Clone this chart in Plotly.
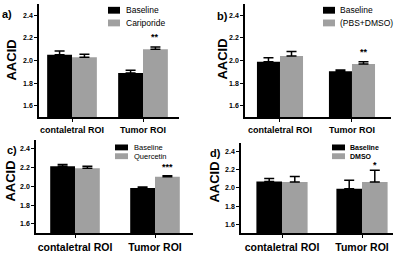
import plotly.graph_objects as go

W, H = 400, 253

# ---------------- data ----------------
categories = ["contaletral ROI", "Tumor ROI"]
y_ticks = [1.6, 1.8, 2.0, 2.2, 2.4]

a_baseline = [2.05, 1.89]
a_baseline_err = [0.035, 0.025]
a_treat = [2.03, 2.10]
a_treat_err = [0.025, 0.02]
a_names = ["Baseline", "Cariporide"]
a_sig = ["", "**"]

b_baseline = [1.99, 1.905]
b_baseline_err = [0.035, 0.012]
b_treat = [2.04, 1.97]
b_treat_err = [0.04, 0.02]
b_names = ["Baseline", "(PBS+DMSO)"]
b_sig = ["", "**"]

c_baseline = [2.215, 1.985]
c_baseline_err = [0.02, 0.01]
c_treat = [2.195, 2.105]
c_treat_err = [0.02, 0.01]
c_names = ["Baseline", "Quercetin"]
c_sig = ["", "***"]

d_baseline = [2.07, 1.99]
d_baseline_err = [0.035, 0.095]
d_treat = [2.065, 2.065]
d_treat_err = [0.06, 0.13]
d_names = ["Baseline", "DMSO"]
d_sig = ["", "*"]

panel_labels = ["a)", "b)", "c)", "d)"]
y_title = "AACID"

BLACK = "#000000"
GRAY = "#a0a0a0"
FONT = "Liberation Sans"


def px(x):
    return x / W


def py(y):
    return 1 - y / H


# panel geometry in pixels
panels = [
    dict(data=(a_baseline, a_baseline_err, a_treat, a_treat_err, a_names, a_sig),
         x0=39, x1=179, yt=4, yb=120, xr=[-0.465, 1.507], bw=0.35, catsize=9,
         lab=(7, 14), tit=(12, 62), star=3,
         leg=dict(sx=108, sy=(7, 20), sw=12, sh=7, tx=124, fs=8.5, bold=False)),
    dict(data=(b_baseline, b_baseline_err, b_treat, b_treat_err, b_names, b_sig),
         x0=245, x1=391, yt=4, yb=120, xr=[-0.486, 1.542], bw=0.32, catsize=9,
         lab=(222, 16), tit=(223, 61), star=3,
         leg=dict(sx=323, sy=(7, 20), sw=12, sh=7, tx=338, fs=8.5, bold=False)),
    dict(data=(c_baseline, c_baseline_err, c_treat, c_treat_err, c_names, c_sig),
         x0=36, x1=193, yt=143, yb=239, xr=[-0.4875, 1.475], bw=0.31, catsize=10.5,
         lab=(12, 154), tit=(11, 186), star=2,
         leg=dict(sx=115, sy=(148, 157), sw=13, sh=6, tx=132, fs=7.5, bold=False)),
    dict(data=(d_baseline, d_baseline_err, d_treat, d_treat_err, d_names, d_sig),
         x0=241, x1=393, yt=146, yb=239, xr=[-0.5125, 1.3875], bw=0.32, catsize=10.5,
         lab=(215, 157), tit=(215, 187), star=-2,
         leg=dict(sx=332, sy=(148, 157), sw=13, sh=6, tx=348, fs=7, bold=True)),
]

fig = go.Figure()
annotations = []
shapes = []

for i, p in enumerate(panels):
    n = "" if i == 0 else str(i + 1)
    xa, ya = "x" + n, "y" + n
    base, base_err, treat, treat_err, names, sig = p["data"]
    bw = p["bw"]
    fig.add_trace(go.Bar(
        x=categories, y=base, name=names[0], marker_color=BLACK, marker_line_width=0,
        width=bw, offset=-bw, xaxis=xa, yaxis=ya, showlegend=False,
        error_y=dict(type="data", array=base_err, arrayminus=[0] * len(base_err),
                     symmetric=False, color=BLACK, thickness=1.5, width=5)))
    fig.add_trace(go.Bar(
        x=categories, y=treat, name=names[1], marker_color=GRAY, marker_line_width=0,
        width=bw, offset=0, xaxis=xa, yaxis=ya, showlegend=False,
        error_y=dict(type="data", array=treat_err, arrayminus=[0] * len(treat_err),
                     symmetric=False, color=BLACK, thickness=1.5, width=5)))

    fig.update_layout(**{
        "xaxis" + n: dict(domain=[px(p["x0"]), px(p["x1"])], anchor=ya, type="category",
                          range=p["xr"], showline=True, linecolor=BLACK, linewidth=1.5,
                          ticks="outside", ticklen=3, tickwidth=1.2, tickcolor=BLACK,
                          showgrid=False, zeroline=False,
                          tickfont=dict(family=FONT, size=p["catsize"], color=BLACK, weight="bold")),
        "yaxis" + n: dict(domain=[py(p["yb"]), py(p["yt"])], anchor=xa, range=[1.5, 2.5],
                          tickmode="array", tickvals=y_ticks, tickformat=".1f",
                          showline=True, linecolor=BLACK, linewidth=1.5,
                          ticks="outside", ticklen=3, tickwidth=1.2, tickcolor=BLACK,
                          showgrid=False, zeroline=False,
                          tickfont=dict(family=FONT, size=7, color=BLACK, weight="bold")),
    })

    # significance stars above treatment bars
    for j, s in enumerate(sig):
        if s:
            annotations.append(dict(
                x=j + bw / 2, y=treat[j] + treat_err[j], xref=xa, yref=ya,
                text="<b>" + s + "</b>", showarrow=False, xanchor="center", yanchor="bottom",
                yshift=p["star"], font=dict(family=FONT, size=9, color=BLACK)))

    # panel letter
    annotations.append(dict(
        x=px(p["lab"][0]), y=py(p["lab"][1]), xref="paper", yref="paper",
        xanchor="center", yanchor="middle",
        text="<b>" + panel_labels[i] + "</b>", showarrow=False,
        font=dict(family=FONT, size=11, color=BLACK)))
    # y title
    annotations.append(dict(
        x=px(p["tit"][0]), y=py(p["tit"][1]), xref="paper", yref="paper",
        xanchor="center", yanchor="middle",
        text="<b>" + y_title + "</b>", showarrow=False, textangle=-90,
        font=dict(family=FONT, size=13, color=BLACK)))

    # legend (drawn manually)
    lg = p["leg"]
    for k, (nm, col) in enumerate(zip(names, [BLACK, GRAY])):
        y0 = lg["sy"][k]
        shapes.append(dict(type="rect", xref="paper", yref="paper",
                           x0=px(lg["sx"]), x1=px(lg["sx"] + lg["sw"]),
                           y0=py(y0 + lg["sh"]), y1=py(y0),
                           fillcolor=col, line=dict(width=0)))
        txt = "<b>" + nm + "</b>" if lg["bold"] else nm
        annotations.append(dict(
            x=px(lg["tx"]), y=py(y0 + lg["sh"] / 2), xref="paper", yref="paper",
            xanchor="left", yanchor="middle", text=txt, showarrow=False,
            font=dict(family=FONT, size=lg["fs"], color=BLACK)))

fig.update_layout(
    width=W, height=H, margin=dict(l=0, r=0, t=0, b=0),
    paper_bgcolor="white", plot_bgcolor="white",
    barmode="overlay", showlegend=False,
    annotations=annotations, shapes=shapes,
)

fig.write_html("out.html", config={"displayModeBar": False},
               post_script="document.body.style.margin='0px';document.body.style.overflow='hidden';")
